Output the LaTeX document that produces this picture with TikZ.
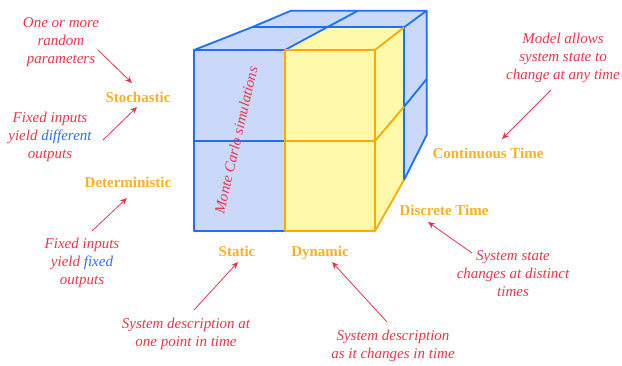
\documentclass[tikz,border=0pt]{standalone}
\usepackage{fontspec}
\setmainfont{Liberation Serif}
\usetikzlibrary{arrows.meta,calc}

\definecolor{cubeblue}{RGB}{31,111,255}
\definecolor{cubefill}{RGB}{202,216,250}
\definecolor{dynfill}{RGB}{255,250,170}
\definecolor{dynline}{RGB}{255,170,0}
\definecolor{axisorange}{RGB}{255,176,32}
\definecolor{notered}{RGB}{242,52,72}
\definecolor{hiblue}{RGB}{46,110,255}

\begin{document}
\begin{tikzpicture}[x=1pt, y=-1pt,
  note/.style={text=notered, font=\fontsize{15}{18}\selectfont\itshape, align=center, inner sep=0pt},
  axis/.style={text=axisorange, font=\fontsize{15}{18}\selectfont\bfseries, inner sep=0pt},
  arr/.style={draw=notered, line width=0.8pt, -{Stealth[length=7pt,width=6pt]}},
  edge/.style={draw=cubeblue, line width=1.8pt, line join=round},
  dynedge/.style={draw=dynline, line width=1.8pt, line join=round}]
  \useasboundingbox (0,0) rectangle (622,365);

  % cube corners
  \coordinate (f1) at (194,50);   \coordinate (f2) at (285,50);   \coordinate (f3) at (375,50);
  \coordinate (g1) at (194,141);  \coordinate (g2) at (285,141);  \coordinate (g3) at (375,141);
  \coordinate (h1) at (194,231);  \coordinate (h2) at (285,231);  \coordinate (h3) at (375,231);
  \coordinate (m1) at (251.7,27.3); \coordinate (m2) at (327,27.3); \coordinate (m3) at (404,27.3);
  \coordinate (b1) at (291,10.7); \coordinate (b2) at (358,10.7); \coordinate (b3) at (426.7,10.7);
  \coordinate (mr) at (404,106.7); \coordinate (br) at (426.7,79);
  \coordinate (mb) at (404,180);  \coordinate (bb) at (426.7,135);

  \fill[cubefill] (f1) -- (m1) -- (b1) -- (b3) -- (bb) -- (mb) -- (h3) -- (h1) -- cycle;
  \fill[dynfill] (f2) -- (m2) -- (m3) -- (mb) -- (h3) -- (h2) -- cycle;

  \draw[edge] (f2) -- (f1) -- (h1) -- (h2);
  \draw[edge] (g1) -- (g2);
  \draw[edge] (f1) -- (m1) -- (b1) -- (b3) -- (bb) -- (mb) -- (m3) -- (b3);
  \draw[edge] (m1) -- (m3);
  \draw[edge] (f2) -- (m2) -- (b2);
  \draw[edge] (mr) -- (br);
  \draw[dynedge] (f2) rectangle (h3);
  \draw[dynedge] (g2) -- (g3);
  \draw[dynedge] (f3) -- (m3);
  \draw[dynedge] (g3) -- (mr);
  \draw[dynedge] (h3) -- (mb);

  \node[note, rotate=77] (mc) at (236,140) {Monte Carlo simulations};

  % axis labels
  \node[axis] (stoch) at (138,97) {Stochastic};
  \node[axis] (determ) at (128,182) {Deterministic};
  \node[axis] (static) at (237,251) {Static};
  \node[axis] (dynamic) at (320,252.5) {Dynamic};
  \node[axis] (contt) at (488,153) {Continuous Time};
  \node[axis] (discr) at (444,210) {Discrete Time};

  % notes
  \node[note] (rand) at (61,42) {One or more\\random\\parameters};
  \node[note] (diffo) at (50,137) {Fixed inputs\\yield {\color{hiblue}different}\\outputs};
  \node[note] (fixo) at (82,263) {Fixed inputs\\yield {\color{hiblue}fixed}\\outputs};
  \node[note] (stdesc) at (186,334) {System description at\\one point in time};
  \node[note] (dyndesc) at (393,346) {System description\\as it changes in time};
  \node[note] (anytime) at (563,58) {Model allows\\system state to\\change at any time};
  \node[note] (distinct) at (513,274) {System state\\changes at distinct\\times};

  \draw[arr] ($(rand)+(37,8)$) -- ($(stoch)+(-6,-14)$);
  \draw[arr] ($(diffo)+(53,3)$) -- ($(stoch)+(-1,10)$);
  \draw[arr] ($(fixo)+(10,-32)$) -- ($(determ)+(-1,16)$);
  \draw[arr] ($(anytime)+(-12,32)$) -- ($(contt)+(14,-14)$);
  \draw[arr] ($(distinct)+(-41,-21)$) -- ($(discr)+(-16,12)$);
  \draw[arr] ($(stdesc)+(8,-24)$) -- ($(static)+(1,11)$);
  \draw[arr] ($(dyndesc)+(-6,-24)$) -- ($(dynamic)+(12,9.5)$);
\end{tikzpicture}
\end{document}
